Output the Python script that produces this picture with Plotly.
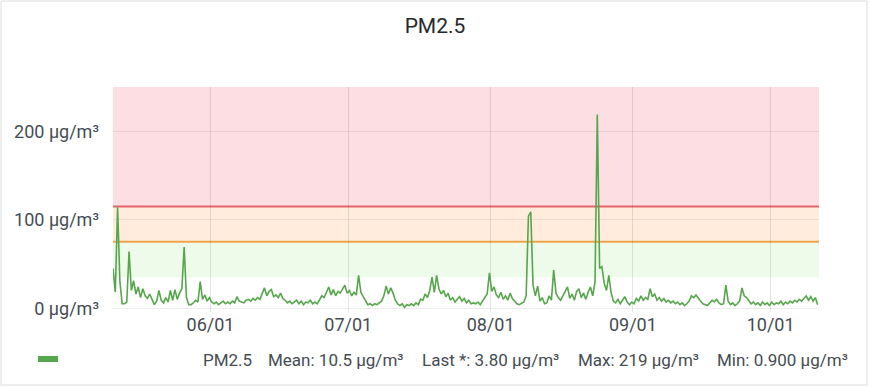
import plotly.graph_objects as go
import pandas as pd

# ---------------- data ----------------
title_text = "PM2.5"
series_name = "PM2.5"
start_time = "2023-05-10 18:00"
sample_freq = "12h"
pm25 = [
    45, 18, 114, 30, 5, 5, 7, 64, 20, 31, 16, 24, 12, 22, 14, 11, 16, 9, 4, 8,
    20, 9, 6, 12, 7, 20, 9, 21, 10, 17, 22, 69, 12, 4, 4, 6, 9, 7, 30, 10,
    15, 8, 12, 7, 5, 7, 4, 6, 8, 5, 7, 5, 8, 6,
    13, 8, 7, 6, 9, 10, 8, 11, 9, 12, 10, 16, 23, 14, 19, 21, 13, 15, 12, 17,
    11, 9, 6, 8, 5, 7, 9, 5, 8, 4, 7, 6, 9, 5, 7, 5, 10, 14, 12, 18,
    24, 15, 21, 14, 19, 17, 22, 26, 17, 20, 14, 18,
    15, 37, 18, 13, 9, 4, 5, 3, 5, 4, 6, 8, 14, 25, 16, 23, 17, 9, 5, 3,
    5, 0.9, 4, 3, 5, 3, 6, 4, 10, 9, 16, 12, 20, 35, 18, 37, 22, 16, 20, 13,
    17, 9, 12, 7, 10, 13, 8, 11, 6, 9, 5, 6,
    5, 7, 4, 8, 11, 16, 40, 19, 24, 15, 12, 18, 10, 14, 9, 17, 11, 8, 5, 4,
    6, 7, 14, 104, 109, 26, 14, 25, 8, 12, 5, 6, 14, 9, 43, 17, 12, 9, 14, 20,
    24, 11, 16, 9, 19, 22, 12, 17, 10, 18, 24, 14,
    30, 219, 45, 47, 28, 20, 37, 18, 8, 6, 10, 5, 9, 13, 7, 4, 7, 5, 11, 8,
    14, 9, 12, 10, 22, 13, 16, 9, 12, 8, 11, 7, 9, 6, 8, 5, 7, 4, 6, 3,
    5, 8, 14, 12, 15, 11, 8, 5, 4, 3, 6, 9, 7,
    10, 6, 4, 5, 26, 8, 4, 6, 3, 5, 8, 23, 14, 12, 9, 5, 7, 4, 6, 3,
    7, 4, 6, 3, 7, 4, 6, 5, 8, 4, 7, 5, 8, 6, 9, 7, 10, 8, 11, 14,
    9, 13, 8, 12, 3.8,
]
x_range = ["2023-05-10 18:00", "2023-10-11 13:00"]
month_ticks = ["2023-06-01", "2023-07-01", "2023-08-01", "2023-09-01", "2023-10-01"]
month_labels = ["06/01", "07/01", "08/01", "09/01", "10/01"]
y_ticks = [0, 100, 200]
y_labels = ["0 µg/m³", "100 µg/m³", "200 µg/m³"]
y_range = [-4.3, 250]
threshold_levels = [35, 75, 115]
band_colors = ["rgba(120,215,90,0.13)", "rgba(255,150,60,0.18)", "rgba(242,73,92,0.18)"]
line_colors = [None, "#f0a34c", "#e3646a"]
legend_items = ["PM2.5", "Mean: 10.5 µg/m³", "Last *: 3.80 µg/m³",
                "Max: 219 µg/m³", "Min: 0.900 µg/m³"]

times = pd.date_range(start_time, periods=len(pm25), freq=sample_freq)

# ---------------- layout geometry ----------------
W, H = 870, 387
ML, MR, MT, MB = 113, 51, 87, 75
PW, PH = W - ML - MR, H - MT - MB


def px_x(px):
    return (px - ML) / PW


def px_y(py):
    return (H - MB - py) / PH


LINE_GREEN = "#56a64b"
TXT = "#464c54"
FONT = "Roboto"

fig = go.Figure()
fig.add_trace(go.Scatter(
    x=times, y=pm25, mode="lines", name=series_name,
    line=dict(color=LINE_GREEN, width=1.6),
    showlegend=False,
))

shapes = []
band_edges = threshold_levels + [y_range[1]]
for i, lvl in enumerate(threshold_levels):
    shapes.append(dict(type="rect", xref="paper", yref="y", x0=0, x1=1,
                       y0=lvl, y1=band_edges[i + 1], fillcolor=band_colors[i],
                       line=dict(width=0), layer="below"))
for i, lvl in enumerate(threshold_levels):
    if line_colors[i]:
        shapes.append(dict(type="line", xref="paper", yref="y", x0=0, x1=1,
                           y0=lvl, y1=lvl, line=dict(color=line_colors[i], width=2),
                           layer="below"))
# panel border
shapes.append(dict(type="rect", xref="paper", yref="paper",
                   x0=px_x(1), x1=px_x(W - 3), y0=px_y(H - 2), y1=px_y(1),
                   line=dict(color="#dcdcdc", width=1), fillcolor="rgba(0,0,0,0)",
                   layer="below"))
# legend swatch
shapes.append(dict(type="rect", xref="paper", yref="paper",
                   x0=px_x(38), x1=px_x(58), y0=px_y(362), y1=px_y(356),
                   fillcolor=LINE_GREEN, line=dict(width=0)))

legend_x_px = [201, 266, 420, 576, 715]
annotations = [dict(text=t, xref="paper", yref="paper", x=px_x(xp), y=px_y(360),
                    xanchor="left", yanchor="middle", showarrow=False,
                    font=dict(family=FONT, size=17, color=TXT))
               for t, xp in zip(legend_items, legend_x_px)]

fig.update_layout(
    width=W, height=H,
    margin=dict(l=ML, r=MR, t=MT, b=MB),
    paper_bgcolor="white", plot_bgcolor="rgba(0,0,0,0)",
    font=dict(family=FONT, color=TXT, size=18),
    title=dict(text=title_text, x=0.5, xanchor="center", y=1 - 26 / H,
               yanchor="middle", font=dict(family=FONT, size=21, color="#24292e")),
    shapes=shapes,
    annotations=annotations,
    xaxis=dict(range=x_range, tickvals=month_ticks, ticktext=month_labels,
               showgrid=True, gridcolor="rgba(0,0,0,0.10)", gridwidth=1,
               zeroline=False, showline=False, ticks="",
               tickfont=dict(size=18, color=TXT)),
    yaxis=dict(range=y_range, tickvals=y_ticks, ticktext=y_labels,
               showgrid=True, gridcolor="rgba(0,0,0,0.07)", gridwidth=1,
               zeroline=False, showline=False, ticks="", ticklabelstandoff=13,
               tickfont=dict(size=18, color=TXT)),
    hovermode=False,
)

fig.write_html("out.html",
               config={"displayModeBar": False},
               post_script="document.body.style.margin='0px';"
                           "document.body.style.overflow='hidden';")
